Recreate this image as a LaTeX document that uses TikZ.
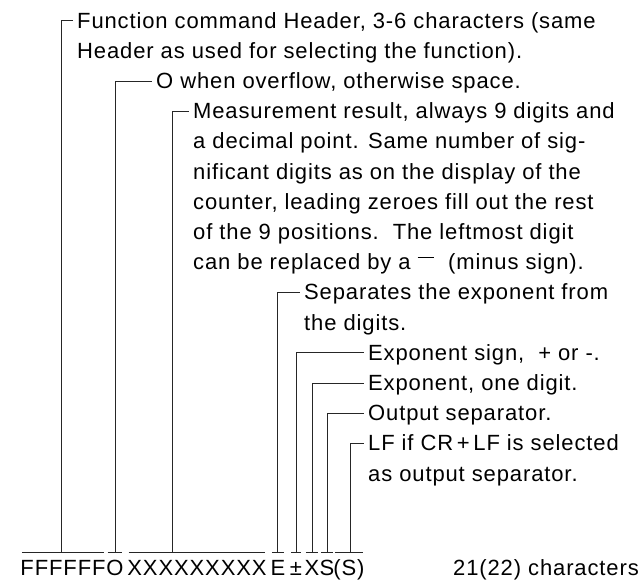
\documentclass[tikz,border=0pt]{standalone}
\usepackage{fontspec}
\setmainfont{Liberation Sans}[LetterSpace=4]
\begin{document}
\begin{tikzpicture}[x=1pt,y=-1pt,
  lab/.style={anchor=base west, inner xsep=4pt, inner ysep=0pt, text height=15pt, text depth=0pt, font=\fontsize{22}{26}\selectfont},
  bot/.style={anchor=base, inner sep=0pt, text height=22pt, text depth=0pt, font=\fontsize{22}{26}\selectfont},
  con/.style={line width=0.8pt, black!85},
  ovl/.style={line width=0.8pt, black!85, shorten <=1.5pt, shorten >=1.5pt}]
\useasboundingbox (0,0) rectangle (643,579);
% bottom record
\node[bot] (bF)  at (63,575)  {FFFFFF};
\node[bot] (bO)  at (115,575) {O};
\node[bot] (bX)  at (197,575) {XXXXXXXXX};
\node[bot] (bE)  at (278,575) {E};
\node[bot] (bPM) at (296,575) {±};
\node[bot] (bX2) at (312,575) {X};
\node[bot] (bS)  at (327,575) {S};
\node[bot] (bSS) at (349,575) {(S)};
\node[anchor=base west, inner sep=0pt, font=\fontsize{22}{26}\selectfont] (cnt) at (453,575) {21(22) characters};
\foreach \n in {bF,bO,bX,bE,bPM,bX2,bS,bSS}
  \draw[ovl] (\n.north west) -- (\n.north east);
% labels
\node[lab] (l1) at (73,28) {Function command Header, 3-6 characters (same};
\node[lab] (l2) at (73,58.2) {Header as used for selecting the function).};
\node[lab] (l3) at (152,88.4) {O when overflow, otherwise space.};
\node[lab] (l4) at (189,118.6) {Measurement result, always 9 digits and};
\node[lab] (l5) at (189,148.8) {a decimal point. Same number of sig-};
\node[lab] (l6) at (189,179) {nificant digits as on the display of the};
\node[lab] (l7) at (189,209.2) {counter, leading zeroes fill out the rest};
\node[lab] (l8) at (189,239.4) {of the 9 positions.\ \ The leftmost digit};
\node[lab] (l9) at (189,269.6) {can be replaced by a \raisebox{0.52em}{\rule{0.75em}{0.07em}}\ \ (minus sign).};
\node[lab] (l10) at (300,299.8) {Separates the exponent from};
\node[lab] (l11) at (300,330) {the digits.};
\node[lab] (l12) at (364,360.2) {Exponent sign,\ \ + or -.};
\node[lab] (l13) at (364,390.4) {Exponent, one digit.};
\node[lab] (l14) at (364,420.6) {Output separator.};
\node[lab] (l15) at (364,450.8) {LF if CR\,+\,LF is selected};
\node[lab] (l16) at (364,481) {as output separator.};
% connectors
\draw[con] (bF.north) ++(-2,0) |- (l1.west);
\draw[con] (bO.north) |- (l3.west);
\draw[con] (bX.north) ++(-25,0) |- (l4.west);
\draw[con] (bE.north) ++(-1,0) |- (l10.west);
\draw[con] (bPM.north) |- (l12.west);
\draw[con] (bX2.north) |- (l13.west);
\draw[con] (bS.north) |- (l14.west);
\draw[con] (bSS.north) ++(1,0) |- (l15.west);
\end{tikzpicture}
\end{document}
